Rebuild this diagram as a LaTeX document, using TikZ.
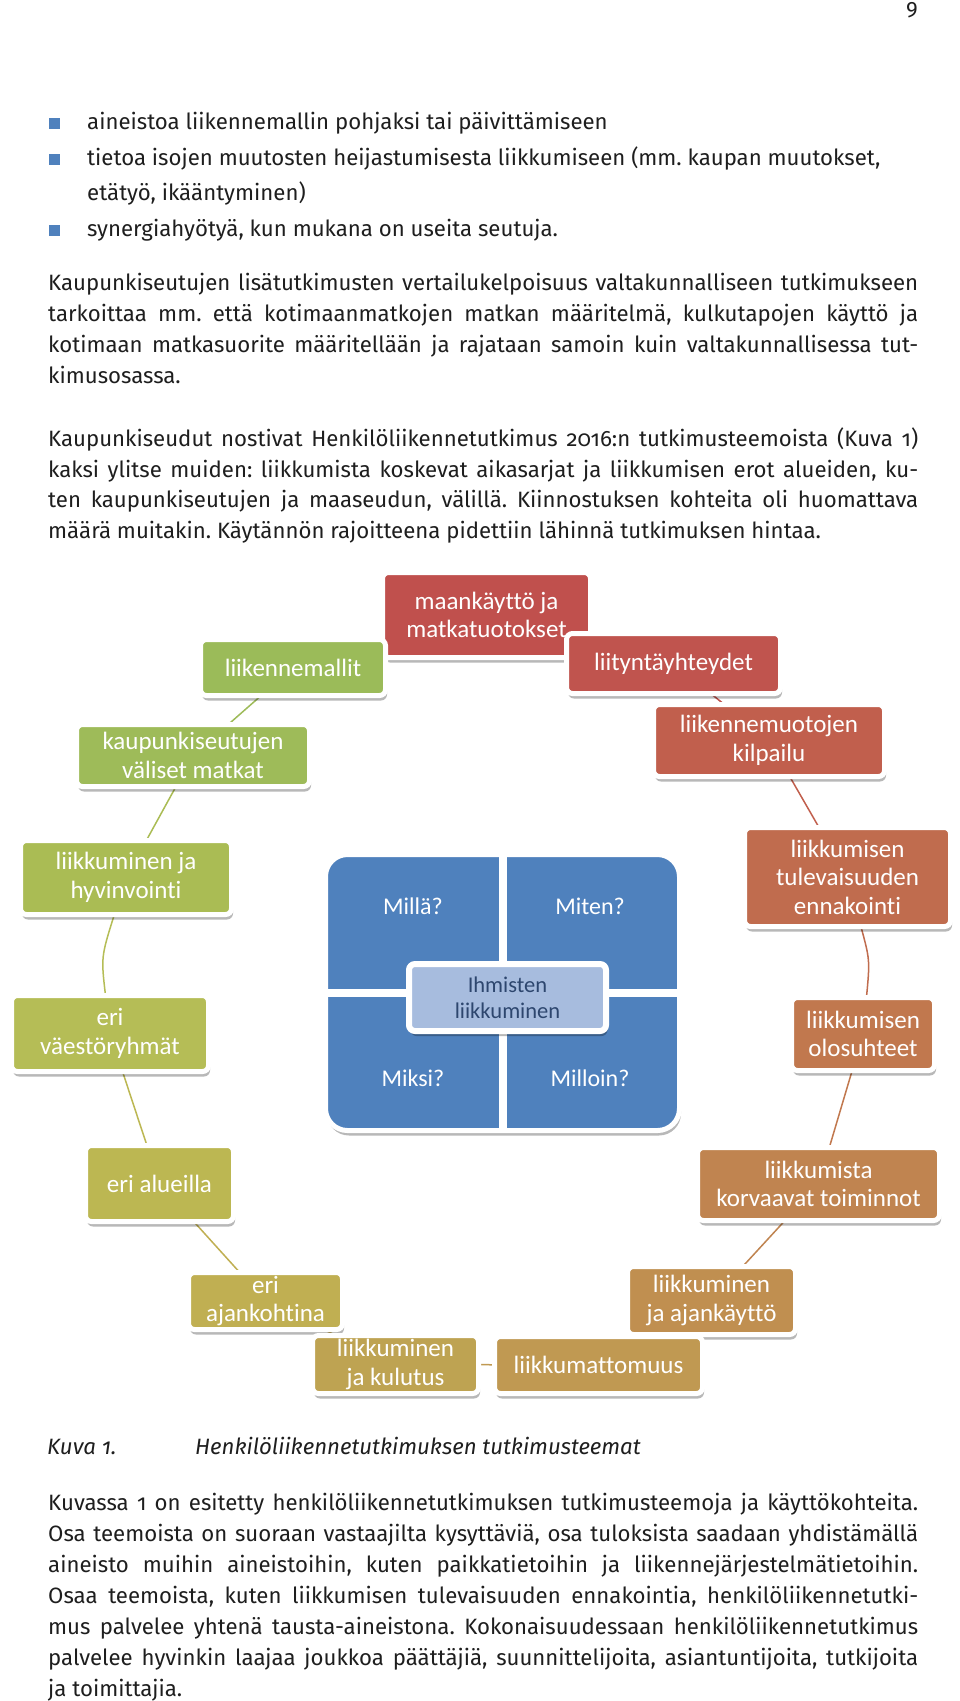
\documentclass[tikz,border=0pt]{standalone}
\usepackage{fontspec}
\setmainfont{Fira Sans}[Numbers=OldStyle]
\newfontfamily\carl{Carlito}[Ligatures=NoCommon]
\usetikzlibrary{shadows}
\frenchspacing
\definecolor{txt}{RGB}{30,30,30}
\definecolor{bul}{RGB}{79,129,189}
\definecolor{qblue}{RGB}{79,129,189}
\definecolor{lblue}{RGB}{167,188,222}
\definecolor{dtext}{RGB}{45,70,110}
\definecolor{cMK}{RGB}{192,80,77}
\definecolor{cLT}{RGB}{192,84,78}
\definecolor{cLK}{RGB}{193,95,77}
\definecolor{cTV}{RGB}{192,108,78}
\definecolor{cOS}{RGB}{193,120,78}
\definecolor{cKT}{RGB}{192,132,80}
\definecolor{cAJ}{RGB}{192,143,80}
\definecolor{cL2}{RGB}{192,153,82}
\definecolor{cKU}{RGB}{190,163,82}
\definecolor{cAK}{RGB}{192,175,82}
\definecolor{cEA}{RGB}{188,183,82}
\definecolor{cVR}{RGB}{181,189,86}
\definecolor{cHV}{RGB}{170,188,84}
\definecolor{cKS}{RGB}{158,187,89}
\definecolor{cLM}{RGB}{155,187,89}
\pgfdeclarelayer{bg}
\pgfsetlayers{bg,main}
\newcommand{\jl}[1]{\makebox[870pt][s]{#1}}
\newcommand{\bodyfont}{\fontsize{22.2}{30.8}\selectfont}
\newcommand{\boxfont}{\carl\fontsize{25}{28.5}\selectfont}
\newcommand{\qfont}{\carl\fontsize{24}{28}\selectfont}
\newcommand{\ihfont}{\carl\fontsize{22.5}{26}\selectfont}
\tikzset{
  bodyline/.style={anchor=base west, inner sep=0pt, text=txt, font=\bodyfont},
  bsq/.style={rectangle, fill=bul, minimum size=11pt, inner sep=0pt},
  shad/.style={drop shadow={shadow xshift=1.5pt, shadow yshift=-5pt, opacity=.28, fill=black}},
  tbox/.style={rectangle, rounded corners=6pt, draw=white, line width=5pt, inner sep=0pt, outer sep=0pt,
     text=white, align=center, font=\boxfont, shad},
  sz/.style 2 args={minimum width=#1+5, minimum height=#2+5},
  con/.style={draw=#1, line width=1.5pt},
  qlab/.style={text=white, font=\qfont, inner sep=0pt}
}
\begin{document}
\begin{tikzpicture}[x=1pt,y=-1pt]
\useasboundingbox (0,0) rectangle (960,1701);

% page number
\node[anchor=base east, inner sep=0pt, text=txt, font=\bodyfont] (pg) at (918,17) {\addfontfeature{Numbers=Lining}9};

% bullets
\node[bsq] (s1) at (54,123) {};
\node[bodyline] (b1) at (87,129) {aineistoa liikennemallin pohjaksi tai päivittämiseen};
\node[bsq] (s2) at (54,159) {};
\node[bodyline] (b2) at (87,165) {tietoa isojen muutosten heijastumisesta liikkumiseen (mm. kaupan muutokset,};
\node[bodyline] (b3) at (87,200) {etätyö, ikääntyminen)};
\node[bsq] (s3) at (54,230) {};
\node[bodyline] (b4) at (87,236) {synergiahyötyä, kun mukana on useita seutuja.};

% paragraph 1
\node[bodyline] (p1a) at (48,290) {\jl{Kaupunkiseutujen lisätutkimusten vertailukelpoisuus valtakunnalliseen tutkimukseen}};
\node[bodyline] (p1b) at (48,321) {\jl{tarkoittaa mm. että kotimaanmatkojen matkan määritelmä, kulkutapojen käyttö ja}};
\node[bodyline] (p1c) at (48,352) {\jl{kotimaan matkasuorite määritellään ja rajataan samoin kuin valtakunnallisessa tut-}};
\node[bodyline] (p1d) at (48,383) {kimusosassa.};

% paragraph 2
\node[bodyline] (p2a) at (48,446) {\jl{Kaupunkiseudut nostivat Henkilöliikennetutkimus 2016:n tutkimusteemoista (Kuva 1)}};
\node[bodyline] (p2b) at (48,477) {\jl{kaksi ylitse muiden: liikkumista koskevat aikasarjat ja liikkumisen erot alueiden, ku-}};
\node[bodyline] (p2c) at (48,507.5) {\jl{ten kaupunkiseutujen ja maaseudun, välillä. Kiinnostuksen kohteita oli huomattava}};
\node[bodyline] (p2d) at (48,538) {määrä muitakin. Käytännön rajoitteena pidettiin lähinnä tutkimuksen hintaa.};

% caption
\node[bodyline, font=\bodyfont\itshape] (cap1) at (47,1454) {Kuva 1.};
\node[bodyline, font=\bodyfont\itshape] (cap2) at (195,1454) {Henkilöliikennetutkimuksen tutkimusteemat};

% paragraph 3
\node[bodyline] (p3a) at (48,1510.5) {\jl{Kuvassa 1 on esitetty henkilöliikennetutkimuksen tutkimusteemoja ja käyttökohteita.}};
\node[bodyline] (p3b) at (48,1541.5) {\jl{Osa teemoista on suoraan vastaajilta kysyttäviä, osa tuloksista saadaan yhdistämällä}};
\node[bodyline] (p3c) at (48,1572.5) {\jl{aineisto muihin aineistoihin, kuten paikkatietoihin ja liikennejärjestelmätietoihin.}};
\node[bodyline] (p3d) at (48,1603.5) {\jl{Osaa teemoista, kuten liikkumisen tulevaisuuden ennakointia, henkilöliikennetutki-}};
\node[bodyline] (p3e) at (48,1634.5) {\jl{mus palvelee yhtenä tausta-aineistona. Kokonaisuudessaan henkilöliikennetutkimus}};
\node[bodyline] (p3f) at (48,1665.5) {\jl{palvelee hyvinkin laajaa joukkoa päättäjiä, suunnittelijoita, asiantuntijoita, tutkijoita}};
\node[bodyline] (p3g) at (48,1696.5) {ja toimittajia.};

% central matrix
\node[rectangle, rounded corners=22pt, draw=white, line width=5pt, fill=qblue, inner sep=0pt,
      minimum width=354, minimum height=276, shad] (quad) at (502.5,992.5) {};
\draw[white, line width=8pt] (quad.north) -- (quad.south);
\draw[white, line width=8pt] (quad.west) -- (quad.east);
\node[qlab] (q1) at (413,906) {Millä?};
\node[qlab] (q2) at (590,906) {Miten?};
\node[qlab] (q3) at (413,1078) {Miksi?};
\node[qlab] (q4) at (590,1078) {Milloin?};
\node[rectangle, rounded corners=6pt, draw=white, line width=6pt, fill=lblue, inner sep=0pt,
      minimum width=197, minimum height=67, text=dtext, align=center,
      font=\ihfont, shad] (ih) at (507.5,997.5) {Ihmisten\\liikkuminen};

% cycle boxes
\node[tbox, fill=cMK, sz={203}{80}] (mk) at (486.5,615) {maankäyttö ja\\matkatuotokset};
\node[tbox, fill=cLM, sz={180}{51}] (lm) at (293,667.5) {liikennemallit};
\node[tbox, fill=cLT, sz={209}{55}] (lt) at (673.5,663.5) {liityntäyhteydet};
\node[tbox, fill=cLK, sz={226}{67}] (lk) at (769,740.5) {liikennemuotojen\\kilpailu};
\node[tbox, fill=cKS, sz={228}{57}] (ks) at (193,755.5) {kaupunkiseutujen\\väliset matkat};
\node[tbox, fill=cHV, sz={206}{69}] (hv) at (126,877.5) {liikkuminen ja\\hyvinvointi};
\node[tbox, fill=cTV, sz={201}{94}] (tv) at (847.5,877) {liikkumisen\\tulevaisuuden\\ennakointi};
\node[tbox, fill=cVR, sz={192}{71}] (vr) at (110,1033.5) {eri\\väestöryhmät};
\node[tbox, fill=cOS, sz={138}{68}] (os) at (863,1034) {liikkumisen\\olosuhteet};
\node[tbox, fill=cEA, sz={143}{71}] (ea) at (159.5,1183.5) {eri alueilla};
\node[tbox, fill=cKT, sz={237}{68}] (kt) at (818.5,1184) {liikkumista\\korvaavat toiminnot};
\node[tbox, fill=cAK, sz={149}{52}] (ak) at (265.5,1301) {eri\\ajankohtina};
\node[tbox, fill=cAJ, sz={163}{63}] (aj) at (711.5,1300.5) {liikkuminen\\ja ajankäyttö};
\node[tbox, fill=cKU, sz={161}{53}] (ku) at (395.5,1364.5) {liikkuminen\\ja kulutus};
\node[tbox, fill=cL2, sz={203}{52}] (lt2) at (598.5,1365) {liikkumattomuus};

\begin{pgfonlayer}{bg}
\fill[white] (0,0) rectangle (960,1701);
\draw[con=cMK] (mk) -- (lt);
\draw[con=cLT] (lt) -- (lk);
\draw[con=cLK] (lk) -- (tv);
\draw[con=cTV] (tv) .. controls (870,960) .. (os);
\draw[con=cOS] (os) -- (kt);
\draw[con=cKT] (kt) -- (aj);
\draw[con=cAJ] (aj) -- (lt2);
\draw[con=cL2] (lt2) -- (ku);
\draw[con=cKU] (ku) -- (ak);
\draw[con=cAK] (ak) -- (ea);
\draw[con=cEA] (ea) -- (vr);
\draw[con=cVR] (vr) .. controls (101,957) .. (hv);
\draw[con=cHV] (hv) -- (ks);
\draw[con=cKS] (ks) -- (lm);
\draw[con=cLM] (lm) -- (mk);
\end{pgfonlayer}
\end{tikzpicture}
\end{document}
